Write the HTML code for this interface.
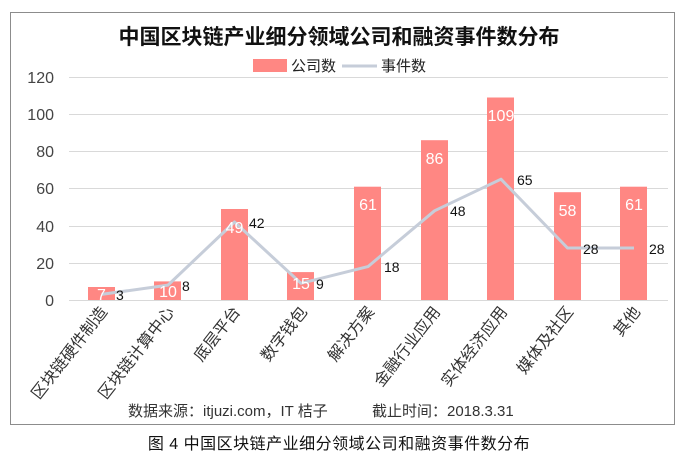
<!DOCTYPE html>
<html><head><meta charset="utf-8"><style>
body{margin:0;background:#fff;}
svg{display:block;font-family:"Liberation Sans","Noto Sans CJK SC",sans-serif;}
</style></head><body>
<svg width="678" height="458" viewBox="0 0 678 458">
<rect x="10.5" y="12.5" width="664" height="412" fill="#fff" stroke="#8c8c8c" stroke-width="1"/>
<text x="339" y="44" text-anchor="middle" font-size="21" font-weight="bold" fill="#111">中国区块链产业细分领域公司和融资事件数分布</text>
<rect x="253" y="59" width="34" height="13" fill="#ff8783"/>
<text x="291" y="71" font-size="15" fill="#222">公司数</text>
<line x1="342" y1="66" x2="377" y2="66" stroke="#c6cdd9" stroke-width="3"/>
<text x="381" y="71" font-size="15" fill="#222">事件数</text>
<g stroke="#d9d9d9" stroke-width="1">
<line x1="69" y1="77.5" x2="668" y2="77.5"/><line x1="69" y1="114.5" x2="668" y2="114.5"/>
<line x1="69" y1="151.5" x2="668" y2="151.5"/><line x1="69" y1="188.5" x2="668" y2="188.5"/>
<line x1="69" y1="226.5" x2="668" y2="226.5"/><line x1="69" y1="263.5" x2="668" y2="263.5"/>
<line x1="69" y1="300.5" x2="668" y2="300.5"/>
</g>
<g font-size="16" fill="#444" text-anchor="end">
<text x="54" y="83">120</text><text x="54" y="120">100</text><text x="54" y="157">80</text>
<text x="54" y="194">60</text><text x="54" y="232">40</text><text x="54" y="269">20</text><text x="54" y="306">0</text>
</g>
<g fill="#ff8783">
<rect x="88" y="287" width="27" height="13"/>
<rect x="154" y="281.4" width="27" height="18.6"/>
<rect x="221" y="209" width="27" height="91"/>
<rect x="287" y="272.1" width="27" height="27.9"/>
<rect x="354" y="186.7" width="27" height="113.3"/>
<rect x="421" y="140.2" width="27" height="159.8"/>
<rect x="487" y="97.5" width="27" height="202.5"/>
<rect x="554" y="192.2" width="27" height="107.8"/>
<rect x="620" y="186.7" width="27" height="113.3"/>
</g>
<polyline fill="none" stroke="#c6cdd9" stroke-width="3" stroke-linejoin="round" points="101.5,294.4 168,285.1 234.5,222 301,283.3 368,266.6 434.5,210.8 501,179.2 567.5,248 634,248"/>
<g font-size="16" fill="#fff" text-anchor="middle">
<text x="101.5" y="300">7</text><text x="168" y="297">10</text><text x="234.5" y="233">49</text>
<text x="301" y="289">15</text><text x="368" y="210">61</text><text x="434.5" y="164">86</text>
<text x="501" y="121">109</text><text x="567.5" y="216">58</text><text x="634" y="210">61</text>
</g>
<g font-size="14" fill="#111">
<text x="116" y="300">3</text><text x="182" y="291">8</text><text x="249" y="228">42</text>
<text x="316" y="289">9</text><text x="384" y="272">18</text><text x="450" y="216">48</text>
<text x="517" y="185">65</text><text x="583" y="254">28</text><text x="649" y="254">28</text>
</g>
<g font-size="16" fill="#333" text-anchor="end">
<text transform="translate(108,312) rotate(-52)">区块链硬件制造</text>
<text transform="translate(175,312) rotate(-52)">区块链计算中心</text>
<text transform="translate(241,312) rotate(-52)">底层平台</text>
<text transform="translate(308,312) rotate(-52)">数字钱包</text>
<text transform="translate(375,312) rotate(-52)">解决方案</text>
<text transform="translate(441,312) rotate(-52)">金融行业应用</text>
<text transform="translate(508,312) rotate(-52)">实体经济应用</text>
<text transform="translate(574,312) rotate(-52)">媒体及社区</text>
<text transform="translate(641,312) rotate(-52)">其他</text>
</g>
<text x="128" y="416" font-size="15" fill="#333">数据来源：itjuzi.com，IT 桔子</text>
<text x="372" y="416" font-size="15" fill="#333">截止时间：2018.3.31</text>
<text x="339" y="449" text-anchor="middle" font-size="16" fill="#111" letter-spacing="0.5">图 4  中国区块链产业细分领域公司和融资事件数分布</text>
</svg>
</body></html>
